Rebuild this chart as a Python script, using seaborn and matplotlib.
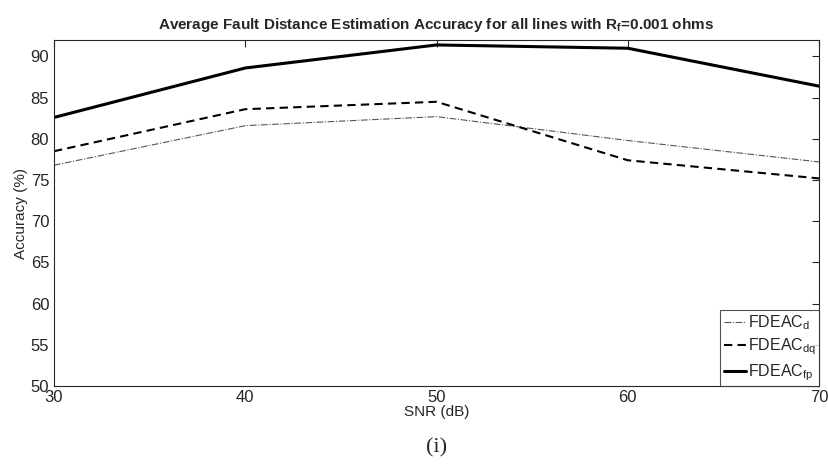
import numpy as np
import pandas as pd
import matplotlib
matplotlib.use("Agg")
import matplotlib.pyplot as plt
import seaborn as sns

# SNR levels and accuracy per method
snr = [30, 40, 50, 60, 70]
fdeac_d = [76.8, 81.6, 82.7, 79.8, 77.2]
fdeac_dq = [78.5, 83.6, 84.5, 77.4, 75.2]
fdeac_fp = [82.6, 88.6, 91.4, 91.0, 86.4]
labels = ['FDEAC$_\\mathregular{d}$', 'FDEAC$_\\mathregular{dq}$', 'FDEAC$_\\mathregular{fp}$']
y_ticks = [50, 55, 60, 65, 70, 75, 80, 85, 90]

sns.set_style("white")
plt.rcParams['font.family'] = ['Liberation Sans', 'DejaVu Sans']

df = pd.DataFrame({'snr': snr * 3,
                   'acc': fdeac_d + fdeac_dq + fdeac_fp,
                   'method': [labels[0]] * 5 + [labels[1]] * 5 + [labels[2]] * 5})

fig = plt.figure(figsize=(8.29, 4.73), dpi=100)
ax = fig.add_axes([54 / 829, 1 - 386 / 473, (819 - 54) / 829, (386 - 40) / 473])

styles = {labels[0]: dict(color='#555555', linestyle=(0, (6, 1.5, 1, 1.5)), linewidth=0.8),
          labels[1]: dict(color='black', linestyle=(0, (4, 2.5)), linewidth=1.5),
          labels[2]: dict(color='black', linestyle='-', linewidth=2.2)}
for m in labels:
    sub = df[df['method'] == m]
    sns.lineplot(data=sub, x='snr', y='acc', ax=ax, label=m, **styles[m])

ax.set_xlim(30, 70)
ax.set_ylim(50, 92)
ax.set_xticks(snr)
ax.set_yticks(y_ticks)
ax.tick_params(direction='in', top=True, right=True, length=5, width=0.8,
               labelsize=12, colors='#262626')
ax.tick_params(axis='x', pad=3)
for s in ax.spines.values():
    s.set_color('#262626')
    s.set_linewidth(0.8)
ax.set_xlabel('SNR (dB)', fontsize=11, labelpad=0, color='#262626')
ax.set_ylabel('Accuracy (%)', fontsize=11, labelpad=2, color='#262626')
ax.set_title('Average Fault Distance Estimation Accuracy for all lines with R$_\\mathregular{f}$=0.001 ohms',
             fontsize=11, fontweight='bold', pad=8)

leg = ax.legend(loc='lower right', frameon=True, fancybox=False, fontsize=11.5,
                handlelength=1.4, handletextpad=0.1, borderpad=0.2,
                labelspacing=0.3, borderaxespad=0.0)
leg.get_frame().set_edgecolor('#262626')
leg.get_frame().set_linewidth(0.8)

fig.text(0.5 * (54 + 819) / 829, 1 - 448 / 473, '(i)', ha='center', va='center',
         fontsize=16, family='Liberation Serif')

plt.savefig("out.png", dpi=100)
